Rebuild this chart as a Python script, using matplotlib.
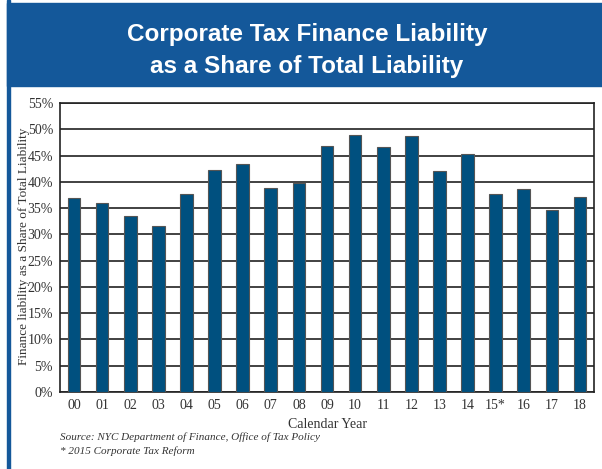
import matplotlib.pyplot as plt
from matplotlib.patches import Rectangle

years = ["00", "01", "02", "03", "04", "05", "06", "07", "08", "09",
         "10", "11", "12", "13", "14", "15*", "16", "17", "18"]
share = [37.0, 36.0, 33.5, 31.5, 37.7, 42.2, 43.3, 38.9, 39.7, 46.8,
         49.0, 46.6, 48.7, 42.0, 45.2, 37.6, 38.6, 34.6, 37.2]
yticks = [0, 5, 10, 15, 20, 25, 30, 35, 40, 45, 50, 55]

W, H = 602, 469
fig = plt.figure(figsize=(W / 100, H / 100), dpi=100)
serif = ["Liberation Serif", "DejaVu Serif"]
sans = ["Liberation Sans", "DejaVu Sans"]

# header band and left border
fig.patches.append(Rectangle((7 / W, 1 - 86 / H), 1, 83 / H, transform=fig.transFigure,
                             color="#14589a", zorder=0))
fig.patches.append(Rectangle((7 / W, 0), 2.5 / W, 1, transform=fig.transFigure,
                             color="#14589a", zorder=0))
fig.text(307 / W, 1 - 35 / H, "Corporate Tax Finance Liability", color="white",
         ha="center", va="center", fontsize=17.5, fontweight="bold", family=sans)
fig.text(307 / W, 1 - 67 / H, "as a Share of Total Liability", color="white",
         ha="center", va="center", fontsize=17.5, fontweight="bold", family=sans)

ax = fig.add_axes([60 / W, 1 - 392 / H, 534 / W, 289 / H])
x = range(len(years))
ax.bar(x, share, width=0.45, color="#00507f", edgecolor="#555555", linewidth=0.8, zorder=3)
ax.set_xlim(-0.5, len(years) - 0.5)
ax.set_ylim(0, 55)
ax.set_yticks(yticks)
ax.set_yticklabels([f"{v}%" for v in yticks], family=serif, fontsize=10, color="#333333")
ax.set_xticks(list(x))
ax.set_xticklabels(years, family=serif, fontsize=10, color="#333333")
ax.tick_params(length=0, pad=5)
ax.yaxis.grid(True, color="#333333", linewidth=1.3, zorder=0)
ax.set_axisbelow(True)
for s in ax.spines.values():
    s.set_color("#222222")
    s.set_linewidth(1.2)
ax.set_xlabel("Calendar Year", family=serif, fontsize=10, color="#333333", labelpad=4)
ax.set_ylabel("Finance liability as a Share of Total Liability", family=serif,
              fontsize=9.5, color="#333333")
ax.yaxis.set_label_coords(-0.056, 0.505)

fig.text(60 / W, 1 - 437 / H, "Source: NYC Department of Finance, Office of Tax Policy",
         family=serif, style="italic", fontsize=8, color="#333333", va="center")
fig.text(60 / W, 1 - 451 / H, "* 2015 Corporate Tax Reform",
         family=serif, style="italic", fontsize=8, color="#333333", va="center")

fig.savefig("out.png", dpi=100)
